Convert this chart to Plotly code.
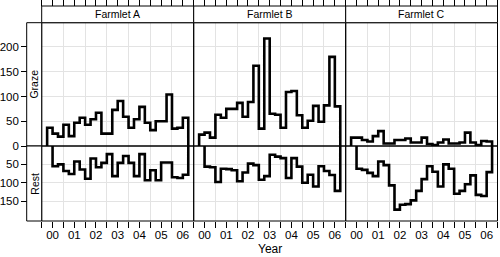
import plotly.graph_objects as go
import pandas as pd

# ---------------- data ----------------
farmlets = ["Farmlet A", "Farmlet B", "Farmlet C"]
year_labels = ["00", "01", "02", "03", "04", "05", "06"]
year_ticks = [2000, 2001, 2002, 2003, 2004, 2005, 2006]

# quarterly periods (graze starts 1999Q4, rest starts 2000Q1, both end with 2006Q1)
graze_quarters = [str(p) for p in pd.period_range("1999Q4", "2006Q1", freq="Q")]
rest_quarters = [str(p) for p in pd.period_range("2000Q1", "2006Q1", freq="Q")]
end_quarter = "2006Q2"

graze_A = [37, 25, 19, 43, 20, 47, 57, 43, 54, 67, 25, 25, 73, 91, 59, 37, 54, 79, 47, 32, 50, 50, 104, 35, 37, 57]
graze_B = [23, 27, 17, 63, 57, 75, 75, 87, 59, 89, 162, 35, 217, 65, 63, 37, 109, 111, 62, 37, 51, 81, 49, 82, 180, 80]
graze_C = [17, 17, 12, 9, 20, 30, 5, 5, 12, 12, 15, 7, 7, 17, 4, 2, 7, 13, 5, 5, 7, 27, 7, 2, 10, 9]

rest_A = [55, 50, 68, 76, 42, 64, 89, 34, 58, 46, 22, 82, 46, 27, 46, 82, 22, 93, 66, 93, 45, 45, 85, 87, 78]
rest_B = [56, 58, 98, 62, 63, 66, 96, 72, 48, 52, 92, 82, 24, 29, 33, 87, 33, 56, 100, 78, 110, 55, 68, 79, 122]
rest_C = [62, 65, 73, 82, 42, 52, 107, 173, 160, 158, 148, 122, 90, 55, 70, 110, 50, 62, 130, 122, 104, 80, 133, 136, 71]

graze_ticks = [0, 50, 100, 150, 200]
rest_ticks = [50, 100, 150]

graze_series = [graze_A, graze_B, graze_C]
rest_series = [rest_A, rest_B, rest_C]

# ---------------- helpers ----------------
W, H = 500, 257
FONT = "Liberation Sans, Arial, Helvetica, sans-serif"


def qdec(q):
    p = pd.Period(q, freq="Q")
    return p.year + (p.quarter - 1) * 0.25


def px_x(v):
    return v / W


def px_y(v):
    return 1 - v / H


def step_xy(quarters, values):
    t = [qdec(q) for q in quarters] + [qdec(end_quarter)]
    xs = [t[0]] + t[:-1] + [t[-1]]
    ys = [0] + list(values) + [0]
    return xs, ys


col_px = [(41.7, 193.7), (193.7, 345.7), (345.7, 497.5)]
graze_px = (22.7, 146.0)
rest_px = (146.0, 221.0)
strip_px = (6.0, 22.7)
left_strip_x = (26.7, 41.7)
xrange_ = [1999.5, 2006.5]
half_years = [y + 0.5 for y in range(1999, 2007)]

fig = go.Figure()
layout = dict(
    width=W, height=H, margin=dict(l=0, r=0, t=0, b=0, autoexpand=False),
    paper_bgcolor="white", plot_bgcolor="white", showlegend=False,
    font=dict(family=FONT, size=11, color="black"),
)

GRID = "#e3e3e3"
shapes = []
annotations = []

for i, name in enumerate(farmlets):
    xa_g = i + 1          # graze row x axis index
    xa_r = i + 4          # rest row x axis index
    dom = [px_x(col_px[i][0]), px_x(col_px[i][1])]

    xs, ys = step_xy(graze_quarters, graze_series[i])
    fig.add_trace(go.Scatter(x=xs, y=ys, mode="lines", line_shape="hv",
                             line=dict(color="black", width=2.6),
                             xaxis=f"x{xa_g}", yaxis=f"y{xa_g}", hoverinfo="skip"))
    xs, ys = step_xy(rest_quarters, rest_series[i])
    fig.add_trace(go.Scatter(x=xs, y=ys, mode="lines", line_shape="hv",
                             line=dict(color="black", width=2.6),
                             xaxis=f"x{xa_r}", yaxis=f"y{xa_r}", hoverinfo="skip"))

    minor_common = dict(tickmode="array", tickvals=half_years, showgrid=True,
                        gridcolor=GRID, gridwidth=1, ticks="outside", ticklen=6,
                        tickcolor="black", tickwidth=1)
    layout[f"xaxis{xa_g}"] = dict(
        domain=dom, range=xrange_, anchor="free", position=px_y(strip_px[0]),
        side="top", tickmode="array", tickvals=year_ticks, showticklabels=False,
        ticks="outside", ticklen=6, tickcolor="black", tickwidth=1,
        showgrid=False, showline=False, zeroline=False, fixedrange=True,
        automargin=False, minor=minor_common,
    )
    layout[f"xaxis{xa_r}"] = dict(
        domain=dom, range=xrange_, anchor=f"y{xa_r}", side="bottom",
        tickmode="array", tickvals=year_ticks, ticktext=year_labels,
        ticks="outside", ticklen=6, tickcolor="black", tickwidth=1,
        ticklabelstandoff=-3,
        tickfont=dict(size=11.5, family=FONT, color="black"),
        showgrid=False, showline=False, zeroline=False, fixedrange=True,
        automargin=False, minor=minor_common,
    )
    g_dom = [px_y(graze_px[1]), px_y(graze_px[0])]
    r_dom = [px_y(rest_px[1]), px_y(rest_px[0])]
    if i == 0:
        layout["yaxis1"] = dict(
            domain=g_dom, range=[0, 249], anchor="free", position=px_x(left_strip_x[0]),
            tickmode="array", tickvals=graze_ticks, ticks="outside", ticklen=5.5,
            tickcolor="black", tickfont=dict(size=11.5, family=FONT, color="black"),
            showgrid=True, gridcolor=GRID, zeroline=False, showline=True,
            linecolor="black", linewidth=1, fixedrange=True, automargin=False,
        )
        layout["yaxis4"] = dict(
            domain=r_dom, range=[204, 0], anchor="free", position=px_x(left_strip_x[0]),
            tickmode="array", tickvals=rest_ticks, ticks="outside", ticklen=5.5,
            tickcolor="black", tickfont=dict(size=11.5, family=FONT, color="black"),
            showgrid=True, gridcolor=GRID, zeroline=False, showline=True,
            linecolor="black", linewidth=1, fixedrange=True, automargin=False,
        )
    else:
        layout[f"yaxis{xa_g}"] = dict(
            domain=g_dom, range=[0, 249], anchor=f"x{xa_g}", matches="y",
            tickmode="array", tickvals=graze_ticks, showticklabels=False, ticks="",
            showgrid=True, gridcolor=GRID, zeroline=False, showline=False, fixedrange=True,
        )
        layout[f"yaxis{xa_r}"] = dict(
            domain=r_dom, range=[204, 0], anchor=f"x{xa_r}", matches="y4",
            tickmode="array", tickvals=rest_ticks, showticklabels=False, ticks="",
            showgrid=True, gridcolor=GRID, zeroline=False, showline=False, fixedrange=True,
        )

    for (y0, y1) in (graze_px, rest_px):
        shapes.append(dict(type="rect", xref="paper", yref="paper",
                           x0=px_x(col_px[i][0]), x1=px_x(col_px[i][1]),
                           y0=px_y(y1), y1=px_y(y0),
                           line=dict(color="black", width=1), layer="above"))
    shapes.append(dict(type="rect", xref="paper", yref="paper",
                       x0=px_x(col_px[i][0]), x1=px_x(col_px[i][1]),
                       y0=px_y(strip_px[1]), y1=px_y(strip_px[0]),
                       line=dict(color="black", width=1), fillcolor="white", layer="above"))
    annotations.append(dict(text=name, xref="paper", yref="paper",
                            x=(px_x(col_px[i][0]) + px_x(col_px[i][1])) / 2,
                            y=px_y((strip_px[0] + strip_px[1]) / 2),
                            showarrow=False, xanchor="center", yanchor="middle",
                            font=dict(size=10.5, family=FONT, color="black")))

for label, (y0, y1) in (("Graze", graze_px), ("Rest", rest_px)):
    shapes.append(dict(type="rect", xref="paper", yref="paper",
                       x0=px_x(left_strip_x[0]), x1=px_x(left_strip_x[1]),
                       y0=px_y(y1), y1=px_y(y0),
                       line=dict(color="black", width=1), fillcolor="white", layer="above"))
    annotations.append(dict(text=label, xref="paper", yref="paper",
                            x=px_x((left_strip_x[0] + left_strip_x[1]) / 2),
                            y=px_y((y0 + y1) / 2), textangle=-90,
                            showarrow=False, xanchor="center", yanchor="middle",
                            font=dict(size=10.5, family=FONT, color="black")))

annotations.append(dict(text="Year", xref="paper", yref="paper",
                        x=px_x((col_px[0][0] + col_px[2][1]) / 2), y=0,
                        showarrow=False, xanchor="center", yanchor="bottom",
                        borderpad=0, yshift=0,
                        font=dict(size=12, family=FONT, color="black")))

layout["shapes"] = shapes
layout["annotations"] = annotations
fig.update_layout(**layout)
fig.write_html("out.html", config={"displayModeBar": False},
               post_script="document.body.style.margin='0';document.body.style.padding='0';")
